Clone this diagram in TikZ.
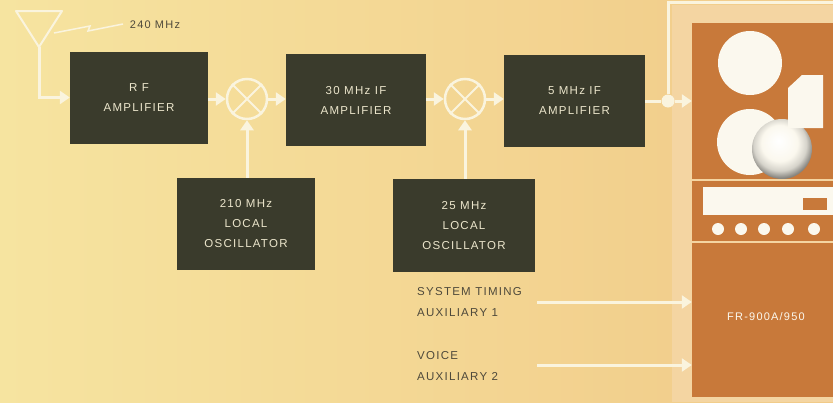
\documentclass[tikz,border=0pt]{standalone}
\usepackage{fontspec}
\setmainfont{Liberation Sans}
\newfontfamily\labf[LetterSpace=11]{Liberation Sans}
\usetikzlibrary{arrows.meta,calc}
\definecolor{bgl}{HTML}{F6E4A0}
\definecolor{bgr}{HTML}{F1CA88}
\definecolor{boxc}{HTML}{3A3B2C}
\definecolor{boxt}{HTML}{ECE6CC}
\definecolor{linec}{HTML}{FAF4DE}
\definecolor{labc}{HTML}{4E493B}
\definecolor{peach}{HTML}{F4D5A2}
\definecolor{orng}{HTML}{C8793A}
\definecolor{reelc}{HTML}{FBF8EE}
\pgfdeclareradialshading{reelball}{\pgfpoint{-3bp}{7bp}}{color(0bp)=(white); color(15bp)=(reelc); color(22bp)=(reelc!85!black); color(27bp)=(reelc!55!black); color(33bp)=(reelc!35!black); color(50bp)=(reelc!35!black)}
\begin{document}
\begin{tikzpicture}[x=1pt,y=-1pt,
  blk/.style={fill=boxc,text=boxt,align=center,font=\labf\fontsize{11.5}{20}\selectfont,inner sep=0pt},
  mix/.style={circle,draw=linec,line width=2.5pt,minimum size=40pt,inner sep=0pt},
  wire/.style={draw=linec,line width=3pt},
  arr/.style={wire,-{Triangle[length=10pt,width=13pt]}},
  lab/.style={text=labc,align=left,anchor=west,font=\labf\fontsize{11.5}{21}\selectfont,inner sep=0pt},
  jdot/.style={circle,fill=linec,minimum size=13pt,inner sep=0pt}]
% background
\useasboundingbox (0,0) rectangle (833,402);
\shade[left color=bgl,right color=bgr] (0,0) rectangle (833,402);
\fill[peach] (672,5) rectangle (833,402);
% recorder panel
\node[fill=orng,minimum width=141pt,minimum height=374pt,inner sep=0pt] (rec) at (762.5,210) {};
\fill[reelc] (750,63) circle (32);
\fill[reelc] (750,142) circle (33);
\shade[shading=reelball] (782,149) circle (30);
\fill[reelc] (802,75) -- (823,75) -- (823,128) -- (788,128) -- (788,88) -- cycle;
\draw[peach,line width=2pt] (692,180) -- (833,180);
\fill[reelc] (703,187) rectangle (833,215);
\fill[orng] (803,198) rectangle (827,210);
\foreach \xx in {718,741,764,788,814} \fill[reelc] (\xx,229) circle (6);
\draw[peach,line width=2pt] (692,242) -- (833,242);
\node[text=reelc,font=\labf\fontsize{11}{20}\selectfont] (fr) at (766,317) {FR-900A/950};
% blocks
\node[blk,minimum width=138pt,minimum height=92pt] (rf) at (139,97.5) {R F\\AMPLIFIER};
\node[blk,minimum width=140pt,minimum height=92pt] (if30) at (356,100) {30 MHz IF\\AMPLIFIER};
\node[blk,minimum width=141pt,minimum height=92pt] (if5) at (574.5,101) {5 MHz IF\\AMPLIFIER};
\node[blk,minimum width=138pt,minimum height=92pt] (lo1) at (246,224) {210 MHz\\LOCAL\\OSCILLATOR};
\node[blk,minimum width=142pt,minimum height=93pt] (lo2) at (464,225.5) {25 MHz\\LOCAL\\OSCILLATOR};
% mixers
\node[mix] (m1) at (247,99) {};
\node[mix] (m2) at (465,99) {};
\foreach \m in {m1,m2}{
  \draw[linec,line width=2pt] (\m.north east) -- (\m.south west);
  \draw[linec,line width=2pt] (\m.north west) -- (\m.south east);
}
% antenna
\coordinate (ant) at (39,47);
\draw[linec,line width=2pt,line join=round] (16,11) -- (62,11) -- (ant) -- cycle;
\draw[arr] (ant) |- (rf.west);
\draw[linec,line width=1.5pt] (54,33) -- (90,26) -- (88,31) -- (123,24);
\node[text=labc,font=\labf\fontsize{11}{20}\selectfont,inner sep=0pt] (fq) at (155,25) {240 MHz};
% chain
\draw[arr] (rf.east |- m1.west) -- (m1.west);
\draw[arr] (m1.east) -- (m1.east -| if30.west);
\draw[arr] (if30.east |- m2.west) -- (m2.west);
\draw[arr] (m2.east) -- (m2.east -| if5.west);
\draw[arr] (m1.south |- lo1.north) -- (m1.south);
\draw[arr] (m2.south |- lo2.north) -- (m2.south);
% output
\node[jdot] (jd) at (668,101) {};
\coordinate (tp) at (668,2);
\coordinate (te) at (833,2);
\draw[wire] (if5.east |- jd) -- (jd);
\draw[wire] (jd) -- (tp) -- (te);
\draw[arr] (jd) -- (jd -| rec.west);
% auxiliary inputs
\node[lab] (l1) at (417,302.5) {SYSTEM TIMING\\AUXILIARY 1};
\node[lab] (l2) at (417,366) {VOICE\\AUXILIARY 2};
\coordinate (a1) at (537,302);
\coordinate (a2) at (537,365);
\draw[arr] (a1) -- (a1 -| rec.west);
\draw[arr] (a2) -- (a2 -| rec.west);
\end{tikzpicture}
\end{document}
